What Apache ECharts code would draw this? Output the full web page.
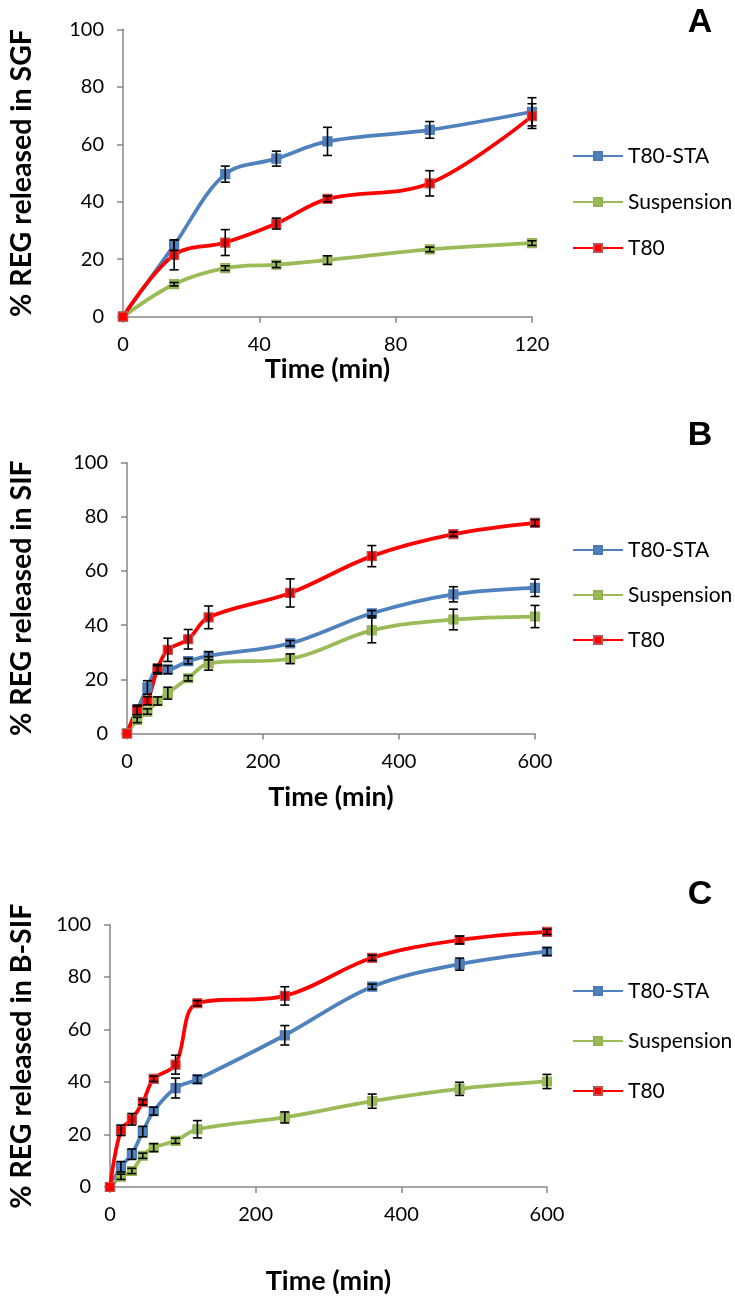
<!DOCTYPE html>
<html><head><meta charset="utf-8">
<script src="https://cdn.jsdelivr.net/npm/echarts@6/dist/echarts.min.js"></script>
<style>html,body{margin:0;padding:0;background:#fff}#c{width:735px;height:1296px}</style>
</head><body><div id="c"></div>
<script>
// ---- data ----
const seriesNames = ['T80-STA', 'Suspension', 'T80'];
const panelLetters = ['A', 'B', 'C'];
const yTitles = ['% REG released in SGF', '% REG released in SIF', '% REG released in B-SIF'];
const xTitle = 'Time (min)';

const timeA = [0, 15, 30, 45, 60, 90, 120];
const staA = [0, 24.9, 49.6, 55.0, 61.0, 65.0, 71.3];
const staAErr = [0, 1.8, 2.8, 2.6, 4.9, 2.9, 4.9];
const susA = [0, 11.3, 16.9, 18.1, 19.7, 23.4, 25.6];
const susAErr = [0, 0.6, 0.8, 1.0, 1.5, 0.8, 0.8];
const t80A = [0, 21.5, 25.8, 32.4, 41.0, 46.4, 69.8];
const t80AErr = [0, 5.2, 4.5, 1.9, 1.0, 4.4, 4.3];

const timeB = [0, 15, 30, 45, 60, 90, 120, 240, 360, 480, 600];
const staB = [0, 8.5, 17.0, 23.5, 23.6, 26.7, 28.7, 33.3, 44.4, 51.4, 53.8];
const staBErr = [0, 1.5, 2.5, 1.5, 1.5, 1.0, 1.5, 1.0, 1.0, 2.8, 3.2];
const susB = [0, 5.0, 8.1, 12.0, 14.9, 20.4, 25.9, 27.6, 38.1, 42.1, 43.2];
const susBErr = [0, 1.0, 1.0, 1.5, 2.2, 1.0, 2.5, 1.8, 4.6, 3.8, 4.1];
const t80B = [0, 8.7, 12.1, 24.0, 30.9, 34.8, 42.9, 51.9, 65.5, 73.6, 77.8];
const t80BErr = [0, 1.8, 1.5, 1.5, 4.3, 3.6, 4.2, 5.2, 3.9, 0.8, 1.2];

const timeC = [0, 15, 30, 45, 60, 90, 120, 240, 360, 480, 600];
const staC = [0, 7.7, 12.5, 21.1, 28.9, 37.7, 41.0, 57.8, 76.3, 84.9, 89.7];
const staCErr = [0, 2.0, 2.0, 2.0, 1.5, 3.8, 1.5, 3.7, 1.0, 2.3, 1.5];
const susC = [0, 3.9, 6.1, 11.9, 15.0, 17.6, 22.0, 26.5, 32.7, 37.4, 40.2];
const susCErr = [0, 1.0, 1.0, 1.0, 1.5, 1.0, 3.3, 2.1, 2.7, 2.5, 2.7];
const t80C = [0, 21.6, 25.8, 32.3, 41.2, 46.6, 70.0, 72.8, 87.3, 94.1, 97.2];
const t80CErr = [0, 2.0, 2.2, 1.0, 1.0, 3.6, 1.0, 3.5, 1.0, 1.5, 1.0];

const xMaxes = [120, 600, 600];
const xIntervals = [40, 200, 200];

// ---- styling / layout ----
const FONT = 'Lato';
const colors = ['#4F81BD', '#9BBB59', '#FF0000'];
const borders = ['#4A7AB5', '#93B255', '#C0504D'];
const grids = [
  {left: 123, top: 29.3, width: 409, height: 287.4},
  {left: 127, top: 462.7, width: 408, height: 270.8},
  {left: 110, top: 924.5, width: 437, height: 263.5}
];
const xNameGaps = [38, 50, 81];
const yTitleX = 22;
const legendTops = [139, 533, 974];
const legendGaps = [22, 21, 26];
const letterY = [22.5, 436, 895];

const panels = [
  {t: timeA, d: [[staA, staAErr], [susA, susAErr], [t80A, t80AErr]]},
  {t: timeB, d: [[staB, staBErr], [susB, susBErr], [t80B, t80BErr]]},
  {t: timeC, d: [[staC, staCErr], [susC, susCErr], [t80C, t80CErr]]}
];

const axisLineStyle = {color: '#868686', width: 1.5};
const xAxis = [], yAxis = [], series = [], legend = [], graphic = [];

panels.forEach((p, i) => {
  const g = grids[i];
  xAxis.push({
    gridIndex: i, type: 'value', min: 0, max: xMaxes[i], interval: xIntervals[i],
    axisLine: {show: true, onZero: false, lineStyle: axisLineStyle},
    axisTick: {show: true, length: 6, lineStyle: axisLineStyle},
    splitLine: {show: false},
    axisLabel: {fontFamily: FONT, fontSize: 20, color: '#000', margin: 18},
    name: xTitle, nameLocation: 'middle', nameGap: xNameGaps[i],
    nameTextStyle: {fontFamily: FONT, fontSize: 27, fontWeight: 'bold', color: '#000'}
  });
  yAxis.push({
    gridIndex: i, type: 'value', min: 0, max: 100, interval: 20,
    axisLine: {show: true, lineStyle: axisLineStyle},
    axisTick: {show: true, length: 6, lineStyle: axisLineStyle},
    splitLine: {show: false},
    axisLabel: {fontFamily: FONT, fontSize: 20, color: '#000', margin: 19}
  });
  graphic.push({
    type: 'text', rotation: Math.PI / 2,
    x: yTitleX, y: g.top + g.height / 2,
    style: {text: yTitles[i], fontFamily: FONT, fontSize: 28.5, fontWeight: 'bold', fill: '#000',
            align: 'center', verticalAlign: 'middle'}
  });
  graphic.push({
    type: 'text', x: 700, y: letterY[i],
    style: {text: panelLetters[i], fontFamily: 'Liberation Sans', fontSize: 34, fontWeight: 'bold', fill: '#000',
            align: 'center', verticalAlign: 'middle'}
  });
  p.d.forEach((sd, k) => {
    const [vals, errs] = sd;
    series.push({
      name: seriesNames[k], type: 'line', xAxisIndex: i, yAxisIndex: i,
      data: p.t.map((x, j) => [x, vals[j]]),
      smooth: 0.35, symbol: 'rect', symbolSize: 9, showSymbol: true,
      lineStyle: {width: 3.75, color: colors[k]},
      itemStyle: {color: colors[k], borderColor: borders[k], borderWidth: 1.2},
      z: 2
    });
  });
  p.d.forEach((sd, k) => {
    const [vals, errs] = sd;
    series.push({
      type: 'custom', xAxisIndex: i, yAxisIndex: i, z: 3, silent: true,
      data: p.t.map((x, j) => [x, vals[j] - errs[j], vals[j] + errs[j], errs[j]]).filter(d => d[3] > 0),
      encode: {x: 0, y: [1, 2]},
      renderItem: (params, api) => {
        const lo = api.coord([api.value(0), api.value(1)]);
        const hi = api.coord([api.value(0), api.value(2)]);
        const w = 4.5;
        const st = {stroke: '#000', lineWidth: 1.6};
        return {type: 'group', children: [
          {type: 'line', shape: {x1: lo[0], y1: lo[1], x2: hi[0], y2: hi[1]}, style: st},
          {type: 'line', shape: {x1: lo[0] - w, y1: lo[1], x2: lo[0] + w, y2: lo[1]}, style: st},
          {type: 'line', shape: {x1: hi[0] - w, y1: hi[1], x2: hi[0] + w, y2: hi[1]}, style: st}
        ]};
      }
    });
  });
  legend.push({
    data: seriesNames, orient: 'vertical', left: 567, top: legendTops[i], itemGap: legendGaps[i],
    itemWidth: 50, itemHeight: 10, selectedMode: false,
    textStyle: {fontFamily: FONT, fontSize: 21, color: '#000', lineHeight: 24}
  });
});

const chart = echarts.init(document.getElementById('c'), null, {renderer: 'canvas'});
chart.setOption({
  animation: false,
  backgroundColor: '#fff',
  grid: grids.map(g => Object.assign({containLabel: false}, g)),
  xAxis, yAxis, series, legend, graphic
});
</script>
</body></html>
